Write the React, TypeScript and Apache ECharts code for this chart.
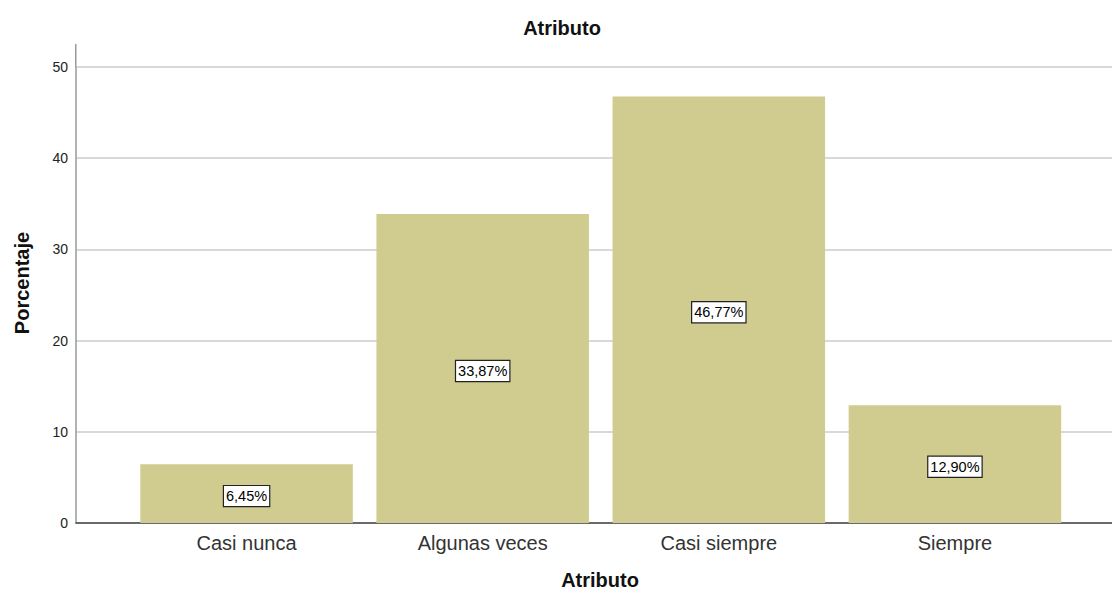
import React, { useEffect, useRef } from "react";
import * as echarts from "echarts";

const categories = ["Casi nunca", "Algunas veces", "Casi siempre", "Siempre"];
const percentages = [6.45, 33.87, 46.77, 12.9];
const yTicks = [0, 10, 20, 30, 40, 50];
const chartTitle = "Atributo";
const xAxisTitle = "Atributo";
const yAxisTitle = "Porcentaje";

const FONT = "Liberation Sans, Arial, sans-serif";
const fmt = (v: number) => v.toFixed(2).replace(".", ",") + "%";

export default function App() {
  const ref = useRef<HTMLDivElement>(null);

  useEffect(() => {
    if (!ref.current) return;
    const chart = echarts.init(ref.current, undefined, { renderer: "svg" });
    const yMax = yTicks[yTicks.length - 1];
    const boldText = (text: string, x: number, y: number, rotation = 0) => ({
      type: "text",
      x,
      y,
      rotation,
      style: {
        text,
        fontSize: 20,
        fontWeight: "bold",
        fill: "#111111",
        align: "center",
        verticalAlign: "middle",
        fontFamily: FONT,
      },
    });
    chart.setOption({
      animation: false,
      backgroundColor: "#ffffff",
      textStyle: { fontFamily: FONT },
      grid: [
        { left: 76, right: 0, top: 67, bottom: 67 },
        { left: 128.5, right: 39, top: 67, bottom: 67 },
      ],
      xAxis: [
        {
          gridIndex: 0,
          type: "category",
          data: [""],
          axisLine: { show: true, lineStyle: { color: "#444444", width: 1.5 } },
          axisTick: { show: false },
          axisLabel: { show: false },
        },
        {
          gridIndex: 1,
          type: "category",
          data: categories,
          axisLine: { show: false },
          axisTick: { show: false },
          axisLabel: { fontSize: 20, color: "#333333", margin: 10 },
        },
      ],
      yAxis: [
        {
          gridIndex: 0,
          type: "value",
          min: 0,
          max: yMax,
          interval: 10,
          axisLine: { show: true, lineStyle: { color: "#999999", width: 1.5 } },
          axisTick: { show: false },
          axisLabel: { fontSize: 14, color: "#222222", margin: 8 },
          splitLine: { show: true, lineStyle: { color: "#cccccc", width: 1.5 } },
        },
        {
          gridIndex: 1,
          type: "value",
          min: 0,
          max: yMax,
          interval: 10,
          show: false,
          splitLine: { show: false },
        },
      ],
      graphic: [
        {
          type: "line",
          shape: { x1: 75.75, y1: 44, x2: 75.75, y2: 67 },
          style: { stroke: "#999999", lineWidth: 1.5 },
        },
        boldText(chartTitle, 562, 28),
        boldText(xAxisTitle, 600, 580),
        boldText(yAxisTitle, 22, 283, Math.PI / 2),
      ],
      series: [
        {
          type: "bar",
          xAxisIndex: 1,
          yAxisIndex: 1,
          data: percentages,
          barCategoryGap: "10%",
          itemStyle: { color: "#d0cb8f" },
          label: {
            show: true,
            position: "inside",
            offset: [0, 2.5],
            formatter: (p: any) => fmt(p.value),
            fontSize: 14.5,
            color: "#000000",
            backgroundColor: "#ffffff",
            borderColor: "#222222",
            borderWidth: 1.2,
            padding: [3, 2, 2, 2],
          },
        },
      ],
    });
    return () => chart.dispose();
  }, []);

  return (
    <div
      ref={ref}
      style={{ position: "absolute", left: 0, top: 0, width: 1112, height: 590 }}
    />
  );
}
